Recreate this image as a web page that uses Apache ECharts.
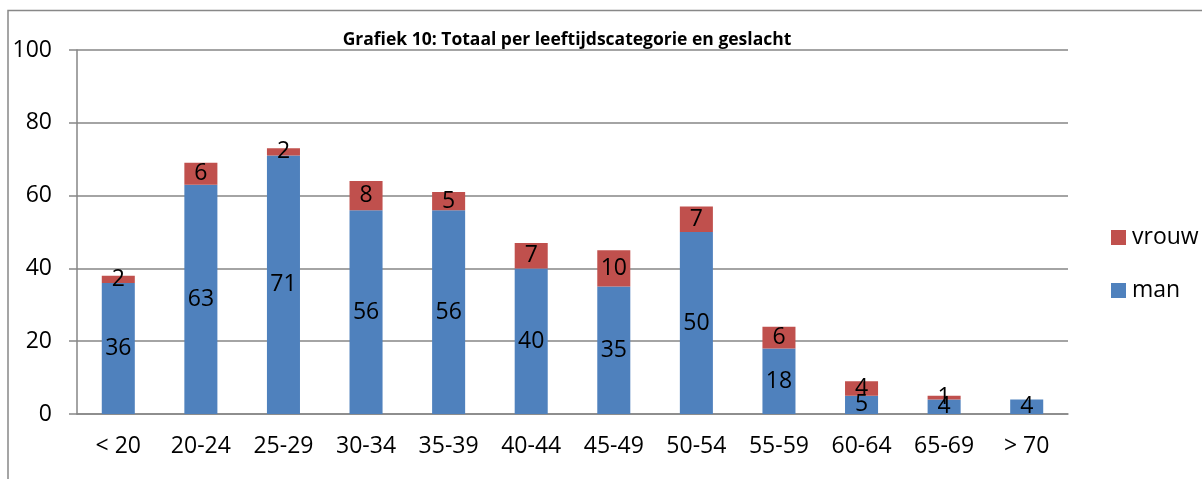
<!DOCTYPE html>
<html>
<head>
<meta charset="utf-8">
<script src="https://cdn.jsdelivr.net/npm/echarts@6/dist/echarts.min.js"></script>
<style>
    html, body { margin: 0; padding: 0; background: #fff; }
    #chart { width: 1202px; height: 479px; }
</style>
</head>
<body>
<div id="chart"></div>
<script>
var categories = ['< 20', '20-24', '25-29', '30-34', '35-39', '40-44', '45-49', '50-54', '55-59', '60-64', '65-69', '> 70'];
var manData = [36, 63, 71, 56, 56, 40, 35, 50, 18, 5, 4, 4];
var vrouwData = [2, 6, 2, 8, 5, 7, 10, 7, 6, 4, 1, 0];

var fontFam = 'Open Sans';
var axisGray = '#868686';

function hideZero(p) {
    return p.value ? p.value : '';
}

var option_chart = {
    animation: false,
    title: {
        text: 'Grafiek 10: Totaal per leeftijdscategorie en geslacht',
        left: 562,
        top: 26,
        textAlign: 'center',
        textStyle: {
            fontFamily: fontFam,
            fontSize: 17.5,
            fontWeight: 'bold',
            color: '#000'
        }
    },
    legend: {
        orient: 'vertical',
        left: 1111,
        top: 226,
        padding: 0,
        itemWidth: 15,
        itemHeight: 15,
        itemGap: 30,
        icon: 'rect',
        data: ['vrouw', 'man'],
        textStyle: {
            fontFamily: fontFam,
            fontSize: 23,
            color: '#000',
            padding: [0, 0, 0, 1]
        }
    },
    grid: {
        left: 77,
        right: 134,
        top: 50,
        bottom: 65
    },
    xAxis: {
        type: 'category',
        data: categories,
        axisLine: { lineStyle: { color: axisGray, width: 1.5 } },
        axisTick: { length: 7, lineStyle: { color: axisGray, width: 1.5 } },
        axisLabel: {
            margin: 21,
            fontFamily: fontFam,
            fontSize: 23,
            color: '#000'
        }
    },
    yAxis: {
        type: 'value',
        min: 0,
        max: 100,
        interval: 20,
        axisLine: { show: true, lineStyle: { color: axisGray, width: 1.5 } },
        axisTick: { show: true, length: 8, lineStyle: { color: axisGray, width: 1.5 } },
        splitLine: { lineStyle: { color: axisGray, width: 1.5 } },
        axisLabel: {
            margin: 25,
            fontFamily: fontFam,
            fontSize: 23,
            color: '#000'
        }
    },
    series: [
        {
            name: 'man',
            type: 'bar',
            stack: 'a',
            barCategoryGap: '60%',
            itemStyle: { color: '#4F81BD' },
            label: {
                show: true,
                position: 'inside',
                fontFamily: fontFam,
                fontSize: 23,
                color: '#000'
            },
            data: manData
        },
        {
            name: 'vrouw',
            type: 'bar',
            stack: 'a',
            barCategoryGap: '60%',
            itemStyle: { color: '#C0504D' },
            label: {
                show: true,
                position: 'inside',
                fontFamily: fontFam,
                fontSize: 23,
                color: '#000',
                formatter: hideZero
            },
            data: vrouwData
        }
    ],
    graphic: [
        {
            type: 'polyline',
            shape: { points: [[8, 479], [8, 10.5], [1202, 10.5]] },
            style: { stroke: '#888', lineWidth: 1.5, fill: null }
        }
    ]
};

var chart = echarts.init(document.getElementById('chart'));
chart.setOption(option_chart, true);
</script>
</body>
</html>
